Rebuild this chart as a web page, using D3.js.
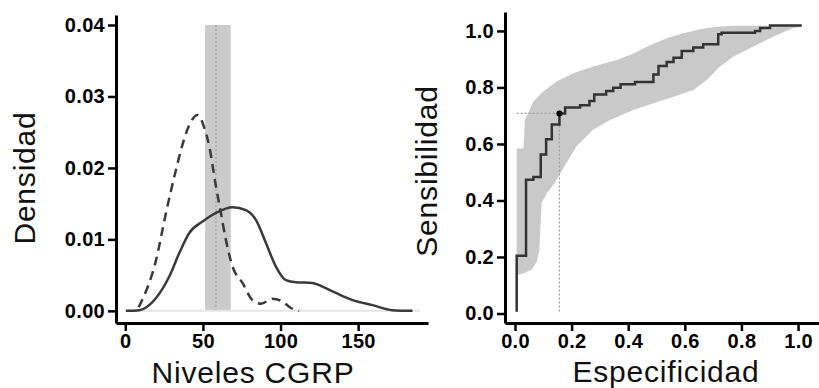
<!DOCTYPE html>
<html>
<head>
<meta charset="utf-8">
<script src="https://cdn.jsdelivr.net/npm/d3@7"></script>
<style>
  body { margin: 0; background: #fff; }
  svg { display: block; }
  .tick text { font-family: "Liberation Sans", Arial, Helvetica, sans-serif; font-weight: bold; font-size: 20px; letter-spacing: 0.3px; fill: #000; }
  .title { font-family: "Liberation Sans", Arial, Helvetica, sans-serif; font-size: 30px; letter-spacing: 0.8px; fill: #111; }
</style>
</head>
<body>
<script>
// density panel
var densTicksX = [0, 50, 100, 150];
var densTicksY = [0, 0.01, 0.02, 0.03, 0.04];
var dashX = [8.6, 19.8, 26.2, 32.6, 36.5, 42.3, 46.6, 50.9, 54.1, 58.4, 61.6, 64.8, 69.1, 75.5, 82, 87.4, 94.8, 101.3, 106.7, 112];
var dashY = [0.0005, 0.0071, 0.0137, 0.0197, 0.023, 0.0265, 0.0274, 0.0256, 0.023, 0.0174, 0.0137, 0.0099, 0.0062, 0.0039, 0.0015, 0.001, 0.0017, 0.0013, 0.0004, 0];
var solidX = [0.4, 9, 19.8, 28.3, 34.8, 41.2, 49.8, 58.4, 69.1, 77.7, 84.2, 90.6, 97, 103.5, 109.9, 120.6, 127, 135.7, 146.4, 159.3, 172, 185];
var solidY = [0, 0.0001, 0.0018, 0.0048, 0.0081, 0.0109, 0.0125, 0.0137, 0.0145, 0.0141, 0.0127, 0.0095, 0.0062, 0.0043, 0.004, 0.0039, 0.0034, 0.0025, 0.0015, 0.0008, 0.0001, 0];
var cutoff = 58.4, cutoffLow = 51.4, cutoffHigh = 67.9;

// roc panel
var rocTicks = [0, 0.2, 0.4, 0.6, 0.8, 1.0];
var rocX = [0.006, 0.006, 0.039, 0.065, 0.091, 0.110, 0.130, 0.157, 0.177, 0.230, 0.263, 0.280, 0.322, 0.347, 0.373, 0.424, 0.489, 0.507, 0.536, 0.560, 0.589, 0.630, 0.665, 0.718, 0.730, 0.848, 0.866, 0.901, 1.013];
var rocY = [0.006, 0.204, 0.473, 0.483, 0.563, 0.617, 0.669, 0.708, 0.729, 0.737, 0.752, 0.775, 0.787, 0.799, 0.811, 0.819, 0.846, 0.876, 0.890, 0.905, 0.929, 0.941, 0.953, 0.988, 0.994, 1.000, 1.010, 1.019, 1.019];
var upX = [0.006, 0.030, 0.035, 0.065, 0.100, 0.147, 0.206, 0.277, 0.359, 0.418, 0.477, 0.536, 0.595, 0.654, 0.713, 0.771, 0.960, 1.013];
var upY = [0.584, 0.584, 0.685, 0.750, 0.786, 0.821, 0.850, 0.874, 0.897, 0.920, 0.949, 0.974, 0.992, 1.006, 1.015, 1.018, 1.018, 1.015];
var loX = [0.006, 0.029, 0.059, 0.077, 0.086, 0.094, 0.112, 0.141, 0.171, 0.218, 0.277, 0.336, 0.418, 0.489, 0.560, 0.630, 0.677, 0.724, 0.771, 0.842, 0.913, 0.983, 1.013];
var loY = [0.137, 0.142, 0.155, 0.183, 0.225, 0.390, 0.425, 0.463, 0.515, 0.593, 0.651, 0.685, 0.720, 0.744, 0.767, 0.791, 0.826, 0.874, 0.909, 0.945, 0.980, 1.010, 1.015];
var optX = 0.157, optY = 0.708;

var svg = d3.select("body").append("svg")
	.attr("width", 819)
	.attr("height", 388);

svg.append("rect").attr("width", 819).attr("height", 388).attr("fill", "#fff");

// ---------- left panel ----------
var x1 = d3.scaleLinear().domain([-6, 195]).range([116, 428]);
var y1 = d3.scaleLinear().domain([-0.0017, 0.0414]).range([323, 15]);

var g1 = svg.append("g");

g1.append("rect")
	.attr("x", x1(cutoffLow))
	.attr("y", y1(0.04))
	.attr("width", x1(cutoffHigh) - x1(cutoffLow))
	.attr("height", y1(0) - y1(0.04))
	.attr("fill", "#cbcbcb");

g1.append("line")
	.attr("x1", x1(cutoff)).attr("x2", x1(cutoff))
	.attr("y1", y1(0.04)).attr("y2", y1(0))
	.attr("stroke", "#999").attr("stroke-width", 1).attr("stroke-dasharray", "2,2");

// faint baseline
g1.append("line")
	.attr("x1", x1(0)).attr("x2", x1(190))
	.attr("y1", y1(0)).attr("y2", y1(0))
	.attr("stroke", "#e4e4e4").attr("stroke-width", 2);

var dens = d3.line()
	.x(function(d){ return x1(d[0]); })
	.y(function(d){ return y1(d[1]); })
	.curve(d3.curveMonotoneX);

g1.append("path")
	.datum(d3.zip(solidX, solidY))
	.attr("d", dens)
	.attr("fill", "none").attr("stroke", "#3a3a3a").attr("stroke-width", 2.5);

g1.append("path")
	.datum(d3.zip(dashX, dashY))
	.attr("d", dens)
	.attr("fill", "none").attr("stroke", "#3a3a3a").attr("stroke-width", 2.5)
	.attr("stroke-dasharray", "9,6");

g1.append("g").attr("transform", "translate(0,323)")
	.call(d3.axisBottom(x1).tickValues(densTicksX).tickSize(8).tickPadding(3).tickSizeOuter(0).tickFormat(d3.format("d")));
g1.append("g").attr("transform", "translate(116,0)")
	.call(d3.axisLeft(y1).tickValues(densTicksY).tickSize(8).tickPadding(3).tickSizeOuter(0).tickFormat(d3.format(".2f")));

g1.append("text").attr("class", "title")
	.attr("x", 253).attr("y", 383).attr("text-anchor", "middle")
	.text("Niveles CGRP");
g1.append("text").attr("class", "title")
	.attr("transform", "translate(35,178) rotate(-90)").attr("text-anchor", "middle")
	.text("Densidad");

// ---------- right panel ----------
var x2 = d3.scaleLinear().domain([-0.0353, 1.074]).range([505, 819]);
var y2 = d3.scaleLinear().domain([-0.0336, 1.067]).range([323, 12]);

var g2 = svg.append("g");

var band = d3.zip(upX, upY).concat(d3.zip(loX, loY).reverse());
g2.append("path")
	.datum(band)
	.attr("d", d3.line().x(function(d){ return x2(d[0]); }).y(function(d){ return y2(d[1]); }).curve(d3.curveLinearClosed))
	.attr("fill", "#c9c9c9").attr("stroke", "none");

g2.append("line")
	.attr("x1", x2(0.006)).attr("x2", x2(optX))
	.attr("y1", y2(optY)).attr("y2", y2(optY))
	.attr("stroke", "#a0a0a0").attr("stroke-width", 1.2).attr("stroke-dasharray", "2,2");
g2.append("line")
	.attr("x1", x2(optX)).attr("x2", x2(optX))
	.attr("y1", y2(optY)).attr("y2", y2(0.006))
	.attr("stroke", "#a0a0a0").attr("stroke-width", 1.2).attr("stroke-dasharray", "2,2");

g2.append("path")
	.datum(d3.zip(rocX, rocY))
	.attr("d", d3.line().x(function(d){ return x2(d[0]); }).y(function(d){ return y2(d[1]); }).curve(d3.curveStepAfter))
	.attr("fill", "none").attr("stroke", "#333").attr("stroke-width", 2.5);

g2.append("circle")
	.attr("cx", x2(optX)).attr("cy", y2(optY)).attr("r", 3)
	.attr("fill", "#000");

g2.append("g").attr("transform", "translate(0,323)")
	.call(d3.axisBottom(x2).tickValues(rocTicks).tickSize(8).tickPadding(3).tickSizeOuter(0).tickFormat(d3.format(".1f")));
g2.append("g").attr("transform", "translate(505,0)")
	.call(d3.axisLeft(y2).tickValues(rocTicks).tickSize(8).tickPadding(3).tickSizeOuter(0).tickFormat(d3.format(".1f")));

g2.append("text").attr("class", "title")
	.attr("x", 666).attr("y", 382).attr("text-anchor", "middle")
	.text("Especificidad");
g2.append("text").attr("class", "title")
	.attr("transform", "translate(437,171) rotate(-90)").attr("text-anchor", "middle")
	.text("Sensibilidad");

// axis styling
svg.selectAll(".domain").attr("stroke", "#000").attr("stroke-width", 3);
svg.selectAll(".tick line").attr("stroke", "#000").attr("stroke-width", 2.5);
</script>
</body>
</html>
